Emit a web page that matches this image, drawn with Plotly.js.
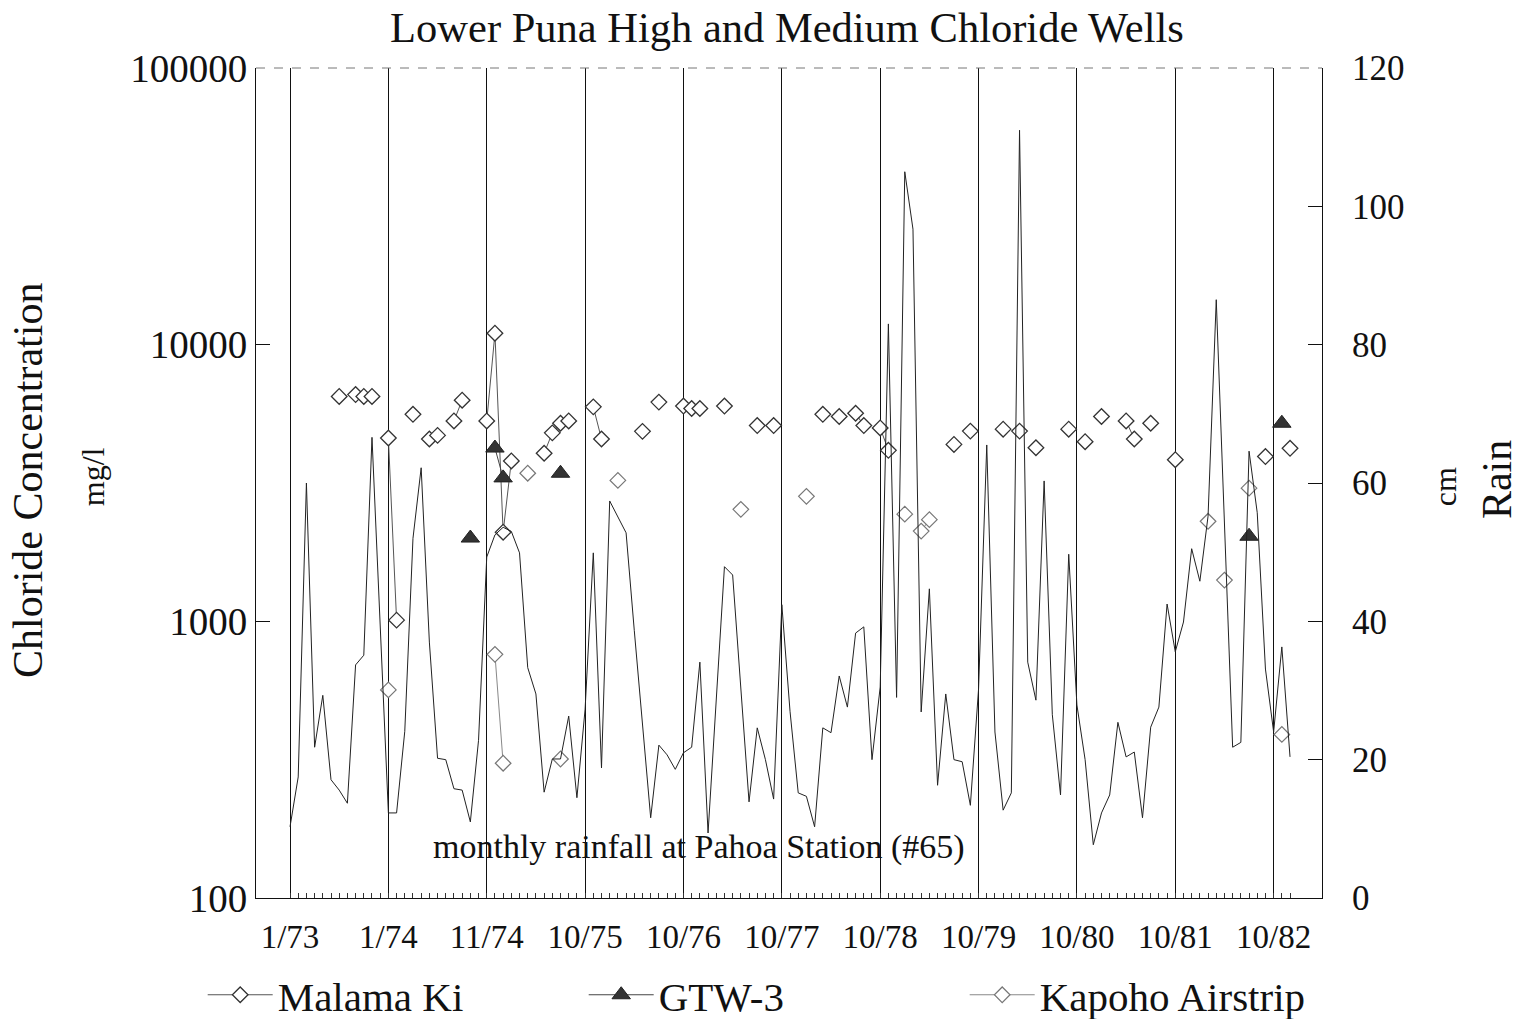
<!DOCTYPE html>
<html>
<head>
<meta charset="utf-8">
<script src="https://cdn.plot.ly/plotly-3.0.1.min.js"></script>
<style>html,body{margin:0;padding:0;background:#fff;}#chart{width:1524px;height:1019px;}</style>
</head>
<body>
<div id="chart"></div>
<script>
// x-axis tick labels (one every 12 monthly samples)
const tickMonths = [0, 12, 24, 36, 48, 60, 72, 84, 96, 108, 120];
const tickLabels = ["1/73", "1/74", "11/74", "10/75", "10/76", "10/77", "10/78", "10/79", "10/80", "10/81", "10/82"];

// monthly rainfall at Pahoa Station (#65), cm, month index 0..122
const rainCm = [
  10.3, 17.5, 60, 21.8, 29.3, 17.1, 15.6, 13.7, 33.7, 35.1, 66.6, 40,
  12.3, 12.3, 24.1, 52, 62.2, 37, 20.2, 20, 15.8, 15.6, 11, 22.8,
  49.3, 52.5, 53.6, 53, 49.9, 33.3, 29.5, 15.3, 20.1, 20.1, 26.3, 14.5,
  27.3, 49.9, 18.8, 57.4, 55, 52.8, 38.7, 25, 11.6, 22.1, 20.7, 18.6,
  21, 21.8, 34.1, 9.4, 28.6, 47.9, 46.7, 30, 13.9, 24.6, 20, 14.3,
  42.4, 27, 15.2, 14.7, 10.3, 24.6, 23.9, 32.1, 27.6, 38.3, 39.2, 20,
  30.5, 83, 29, 105, 96.7, 26.9, 44.7, 16.3, 29.5, 20, 19.7, 13.4,
  30.2, 65.5, 24, 12.7, 15.2, 111, 34.1, 28.6, 60.3, 26.5, 14.9, 49.7,
  27.9, 20, 7.7, 12.3, 14.9, 25.4, 20.4, 21.1, 11.6, 24.7, 27.6, 42.5,
  35.6, 39.9, 50.5, 45.8, 55.2, 86.5, 55, 21.8, 22.5, 64.6, 55.7, 33.1,
  24, 36.3, 20.4
];

// Malama Ki chloride, mg/l
const malamaMonths = [6,8,9,10,12,13,15,17,18,20,21,24,25,26,27,31,32,33,34,37,38,43,45,48,49,50,53,57,59,65,67,69,70,72,73,81,83,87,89,91,95,97,99,102,103,105,108,119,122];
const malamaCl = [6500,6600,6500,6500,4600,1010,5600,4560,4700,5300,6300,5300,11000,2100,3800,4050,4800,5200,5300,5960,4560,4860,6200,6000,5880,5880,6000,5100,5100,5600,5500,5650,5100,5000,4150,4360,4870,4950,4870,4240,4950,4460,5500,5300,4560,5200,3840,3940,4220];

// GTW-3 chloride, mg/l
const gtwMonths = [22,25,26,33,117,121];
const gtwCl = [2000,4230,3300,3430,2030,5200];

// Kapoho Airstrip chloride, mg/l
const kapohoMonths = [12,25,26,29,33,40,55,63,75,77,78,112,114,117,121];
const kapohoCl = [565,760,307,3430,318,3230,2540,2830,2440,2120,2330,2300,1410,3030,390];

// insert gaps between non-consecutive months so only adjacent samples are joined
function withGaps(months, vals) {
  const x = [], y = [];
  for (let i = 0; i < months.length; i++) {
    if (i > 0 && months[i] - months[i - 1] > 1) { x.push(null); y.push(null); }
    x.push(months[i]); y.push(vals[i]);
  }
  return {x, y};
}

const FONT = "Liberation Serif, Times New Roman, serif";
const m = withGaps(malamaMonths, malamaCl);
const g = withGaps(gtwMonths, gtwCl);
const k = withGaps(kapohoMonths, kapohoCl);
const rainX = rainCm.map((_, i) => i);

const traces = [
  {x: rainX, y: rainCm, yaxis: 'y2', type: 'scatter', mode: 'lines',
   line: {color: '#222', width: 1}, showlegend: false, hoverinfo: 'x+y'},
  {x: m.x, y: m.y, name: 'Malama Ki', type: 'scatter', mode: 'lines+markers', connectgaps: false,
   line: {color: '#555', width: 1},
   marker: {symbol: 'diamond', size: 12, color: '#fff', line: {color: '#333', width: 1.3}}},
  {x: g.x, y: g.y, name: 'GTW-3', type: 'scatter', mode: 'lines+markers', connectgaps: false,
   line: {color: '#444', width: 1},
   marker: {symbol: 'triangle-up', size: 16, color: '#333', line: {color: '#222', width: 1}}},
  {x: k.x, y: k.y, name: 'Kapoho Airstrip', type: 'scatter', mode: 'lines+markers', connectgaps: false,
   line: {color: '#888', width: 1},
   marker: {symbol: 'diamond', size: 12, color: '#fff', line: {color: '#777', width: 1.2}}}
];

const layout = {
  width: 1524, height: 1019,
  margin: {l: 256, r: 202, t: 68, b: 121, autoexpand: false},
  paper_bgcolor: '#fff', plot_bgcolor: '#fff',
  font: {family: FONT, color: '#111', size: 32},
  title: {text: 'Lower Puna High and Medium Chloride Wells', x: 0.5164, xref: 'container',
          y: 0.9735, yref: 'container', yanchor: 'middle', xanchor: 'center',
          font: {family: FONT, size: 42.5, color: '#111'}},
  xaxis: {range: [-4.15, 125.9], tickmode: 'array', tickvals: tickMonths, ticktext: tickLabels,
          showgrid: true, gridcolor: '#111', gridwidth: 1, zeroline: false,
          showline: true, linecolor: '#111', linewidth: 1, ticks: '', ticklabelstandoff: 9,
          tickfont: {family: FONT, size: 33, color: '#111'},
          minor: {tickmode: 'array', tickvals: rainX, ticks: 'inside', ticklen: 5, tickcolor: '#333', showgrid: false}},
  yaxis: {type: 'log', range: [2, 5], tickmode: 'array',
          tickvals: [100, 1000, 10000, 100000], ticktext: ['100', '1000', '10000', '100000'],
          ticks: 'inside', ticklen: 14, tickcolor: '#111', showline: true, linecolor: '#111',
          showgrid: false, zeroline: false, tickfont: {family: FONT, size: 39, color: '#111'}},
  yaxis2: {overlaying: 'y', side: 'right', range: [0, 120], dtick: 20, tick0: 0,
           ticks: 'inside', ticklen: 14, tickcolor: '#111', showline: true, linecolor: '#111',
           ticklabelstandoff: 22,
           showgrid: false, zeroline: false, tickfont: {family: FONT, size: 35, color: '#111'}},
  showlegend: true,
  legend: {orientation: 'h', x: -0.05, xanchor: 'left', y: -0.117, yanchor: 'middle',
           itemwidth: 65,
           entrywidth: 301, entrywidthmode: 'pixels', font: {family: FONT, size: 41, color: '#111'},
           bgcolor: 'rgba(0,0,0,0)', itemclick: false},
  shapes: [{type: 'line', xref: 'paper', yref: 'paper', x0: 0, x1: 1, y0: 1, y1: 1,
            line: {color: '#777', width: 1, dash: 'dash'}}],
  annotations: [
    {text: 'monthly rainfall at Pahoa Station (#65)', xref: 'paper', yref: 'paper',
     x: 0.4156, y: 0.0614, xanchor: 'center', yanchor: 'middle',
     showarrow: false, font: {family: FONT, size: 34, color: '#111'}},
    {text: 'Chloride Concentration', xref: 'paper', yref: 'paper', x: -0.2139, y: 0.5036,
     xanchor: 'center', yanchor: 'middle',
     textangle: -90, showarrow: false, font: {family: FONT, size: 42, color: '#111'}},
    {text: 'mg/l', xref: 'paper', yref: 'paper', x: -0.1529, y: 0.507,
     xanchor: 'center', yanchor: 'middle',
     textangle: -90, showarrow: false, font: {family: FONT, size: 32, color: '#111'}},
    {text: 'cm', xref: 'paper', yref: 'paper', x: 1.1154, y: 0.495,
     xanchor: 'center', yanchor: 'middle',
     textangle: -90, showarrow: false, font: {family: FONT, size: 32, color: '#111'}},
    {text: 'Rain', xref: 'paper', yref: 'paper', x: 1.1642, y: 0.5036,
     xanchor: 'center', yanchor: 'middle',
     textangle: -90, showarrow: false, font: {family: FONT, size: 42, color: '#111'}}
  ]
};

Plotly.newPlot('chart', traces, layout, {displayModeBar: false, staticPlot: true});
</script>
</body>
</html>
